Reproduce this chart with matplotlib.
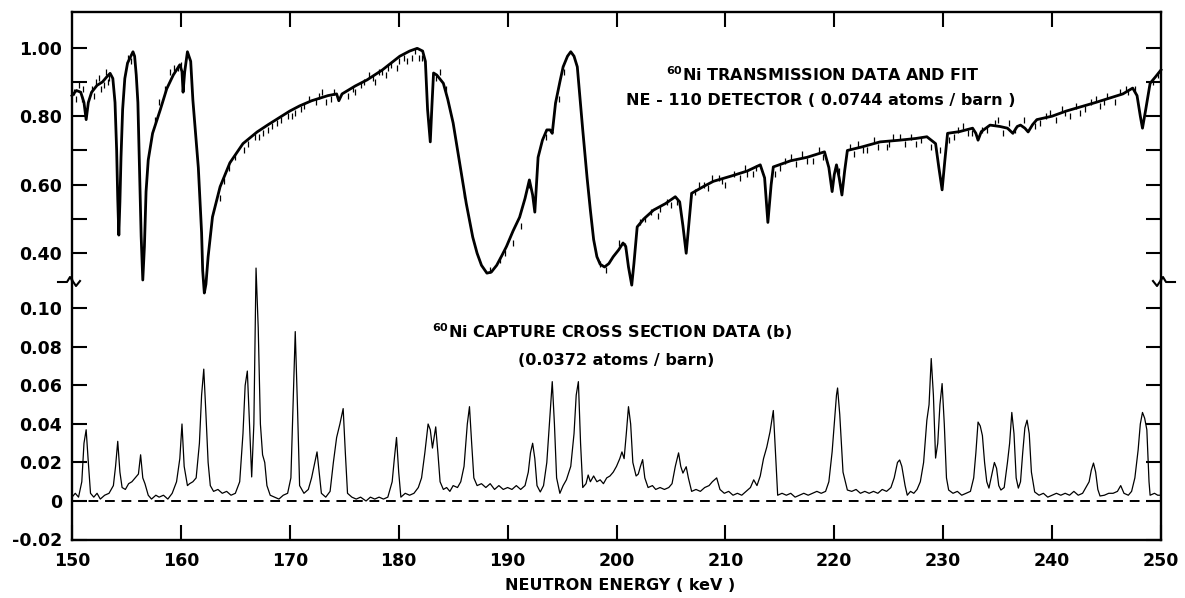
import matplotlib
matplotlib.use("Agg")
import matplotlib.pyplot as plt
from matplotlib.lines import Line2D

# ---- transmission fit (keV, transmission) ----
fit_E = [150.0, 150.4, 150.8, 151.1, 151.3, 151.5, 151.8, 152.3, 152.8, 153.2,
         153.5, 153.75, 153.95, 154.1, 154.2, 154.3, 154.4, 154.5, 154.65, 154.85,
         155.1, 155.4, 155.6, 155.75, 155.9, 156.05, 156.2, 156.35, 156.5, 156.65,
         156.8, 157.0, 157.4, 158.1, 158.7, 159.3, 159.9, 160.1, 160.2, 160.35,
         160.6, 160.9, 161.1, 161.35, 161.6, 161.9, 162.0, 162.15, 162.3, 162.5,
         162.9, 163.6, 164.5, 165.7, 167.0, 168.0, 169.0, 170.0, 170.9, 172.0,
         173.5, 174.3, 174.5, 174.8, 176.0, 177.1, 178.5, 180.1, 181.0, 181.7,
         182.2, 182.45, 182.65, 182.9, 183.05, 183.2, 183.5, 184.1, 184.5, 185.0,
         185.6, 186.2, 186.8, 187.2, 187.6, 188.1, 188.5, 189.0, 189.5, 189.9,
         190.5, 191.1, 191.6, 192.0, 192.3, 192.5, 192.65, 192.8, 193.2, 193.6,
         193.9, 194.1, 194.4, 194.8, 195.1, 195.5, 195.8, 196.1, 196.4, 196.9,
         197.3, 197.6, 197.9, 198.2, 198.5, 198.9, 199.3, 199.7, 200.2, 200.6,
         200.85, 201.1, 201.4, 201.6, 201.9, 202.5, 203.4, 204.5, 205.4, 205.8,
         206.1, 206.4, 206.6, 206.9, 208.0, 208.9, 210.5, 212.0, 213.2, 213.6,
         213.9, 214.2, 214.4, 216.0, 217.5, 219.1, 219.5, 219.8, 220.0, 220.2,
         220.45, 220.7, 220.95, 221.2, 222.5, 224.2, 226.0, 227.5, 228.5, 229.3,
         229.6, 229.9, 230.15, 230.4, 231.5, 232.7, 233.0, 233.2, 233.5, 234.3,
         235.2, 235.9, 236.4, 236.8, 237.1, 237.5, 237.8, 238.2, 238.6, 240.0,
         241.3, 242.6, 244.0, 245.5, 246.5, 247.4, 247.8, 248.1, 248.3, 248.6,
         249.0, 249.5, 250.0]
fit_T = [0.86, 0.875, 0.87, 0.84, 0.79, 0.84, 0.87, 0.89, 0.90, 0.915,
         0.925, 0.91, 0.84, 0.70, 0.56, 0.453, 0.55, 0.68, 0.82, 0.91,
         0.955, 0.975, 0.988, 0.975, 0.92, 0.84, 0.65, 0.45, 0.322, 0.42,
         0.58, 0.672, 0.75, 0.818, 0.88, 0.92, 0.95, 0.93, 0.87, 0.93,
         0.988, 0.96, 0.847, 0.75, 0.65, 0.46, 0.35, 0.284, 0.31, 0.39,
         0.506, 0.594, 0.664, 0.72, 0.754, 0.775, 0.795, 0.815, 0.83, 0.845,
         0.86, 0.865, 0.845, 0.865, 0.888, 0.906, 0.935, 0.975, 0.99, 0.998,
         0.99, 0.96, 0.82, 0.725, 0.83, 0.926, 0.92, 0.896, 0.85, 0.78,
         0.663, 0.546, 0.447, 0.40, 0.365, 0.342, 0.345, 0.365, 0.395, 0.42,
         0.465, 0.505, 0.56, 0.614, 0.57, 0.52, 0.60, 0.68, 0.73, 0.76,
         0.76, 0.75, 0.838, 0.90, 0.944, 0.975, 0.988, 0.975, 0.944, 0.76,
         0.62, 0.526, 0.44, 0.39, 0.368, 0.36, 0.37, 0.39, 0.41, 0.43,
         0.42, 0.36, 0.307, 0.37, 0.477, 0.50, 0.526, 0.545, 0.565, 0.55,
         0.48, 0.40, 0.47, 0.575, 0.595, 0.61, 0.625, 0.64, 0.658, 0.62,
         0.49, 0.60, 0.652, 0.67, 0.68, 0.696, 0.65, 0.58, 0.63, 0.658,
         0.62, 0.57, 0.64, 0.70, 0.71, 0.725, 0.73, 0.735, 0.74, 0.72,
         0.65, 0.585, 0.67, 0.75, 0.755, 0.765, 0.75, 0.73, 0.755, 0.774,
         0.77, 0.765, 0.75, 0.77, 0.774, 0.765, 0.754, 0.775, 0.79, 0.80,
         0.815, 0.827, 0.84, 0.855, 0.865, 0.882, 0.86, 0.80, 0.765, 0.82,
         0.896, 0.915, 0.935]

# ---- transmission data points (scatter around the fit) ----
data_E = [150.2, 150.6, 150.9, 151.8, 152.2, 152.7, 153.1, 153.4, 155.1, 155.4,
          157.6, 158.0, 158.5, 159.0, 159.4, 160.0, 163.6, 164.0, 165.0, 165.8,
          166.8, 167.5, 168.4, 169.2, 169.8, 170.5, 171.3, 171.8, 172.4, 173.0,
          173.8, 175.3, 175.8, 176.5, 177.3, 177.8, 178.2, 178.8, 179.3, 179.8,
          180.5, 181.2, 181.9, 183.8, 186.0, 189.8, 190.5, 191.2, 193.5, 195.2,
          199.0, 200.2, 202.6, 203.2, 203.8, 204.6, 205.0, 207.2, 207.6, 208.4,
          209.4, 210.0, 210.8, 211.3, 211.8, 212.5, 215.0, 215.5, 216.5, 217.0,
          218.0, 218.6, 221.8, 222.2, 223.0, 223.6, 224.8, 225.4, 226.5, 227.0,
          228.0, 228.9, 231.0, 231.8, 232.3, 234.0, 234.8, 235.5, 236.0, 238.9,
          239.4, 240.4, 240.9, 241.6, 242.2, 243.0, 243.6, 244.4, 245.0, 245.8,
          246.2, 247.0, 249.3, 249.7,
          150.4, 151.0, 152.0, 152.5, 152.9, 153.3, 159.7, 164.4, 166.2, 167.2,
          168.0, 168.8, 170.2, 171.0, 172.7, 173.3, 174.1, 176.0, 176.8, 177.6,
          178.5, 179.0, 180.0, 180.8, 181.5, 182.1, 183.4, 184.3, 188.4, 189.3,
          192.0, 194.7, 198.5, 200.8, 202.2, 204.0, 205.6, 206.8, 208.0, 208.8,
          209.7, 212.0, 212.8, 214.6, 216.0, 217.5, 219.0, 220.4, 221.4, 222.6,
          224.0, 225.0, 226.0, 227.5, 229.7, 230.5, 231.4, 232.6, 233.6, 235.0,
          236.6, 237.4, 238.4, 239.8, 241.2, 242.6, 244.0, 244.8, 246.8, 247.6]
data_T = [0.87, 0.89, 0.85, 0.88, 0.90, 0.88, 0.93, 0.91, 0.97, 0.96,
          0.79, 0.84, 0.88, 0.93, 0.94, 0.95, 0.56, 0.61, 0.68, 0.70,
          0.74, 0.75, 0.77, 0.79, 0.80, 0.81, 0.83, 0.85, 0.84, 0.87,
          0.85, 0.86, 0.88, 0.89, 0.92, 0.90, 0.93, 0.92, 0.95, 0.94,
          0.97, 0.97, 0.97, 0.93, 0.57, 0.40, 0.43, 0.48, 0.74, 0.93,
          0.35, 0.43, 0.50, 0.52, 0.51, 0.55, 0.54, 0.58, 0.60, 0.59,
          0.62, 0.60, 0.63, 0.62, 0.65, 0.63, 0.65, 0.67, 0.66, 0.69,
          0.67, 0.70, 0.69, 0.72, 0.70, 0.73, 0.71, 0.74, 0.72, 0.74,
          0.73, 0.71, 0.74, 0.77, 0.75, 0.76, 0.78, 0.75, 0.78, 0.78,
          0.80, 0.79, 0.82, 0.80, 0.83, 0.82, 0.84, 0.83, 0.86, 0.84,
          0.87, 0.87, 0.90, 0.92,
          0.85, 0.88, 0.86, 0.91, 0.89, 0.90, 0.94, 0.65, 0.72, 0.74,
          0.76, 0.78, 0.80, 0.82, 0.86, 0.84, 0.87, 0.87, 0.90, 0.91,
          0.93, 0.94, 0.96, 0.96, 0.99, 0.97, 0.91, 0.88, 0.35, 0.38,
          0.60, 0.85, 0.37, 0.42, 0.49, 0.53, 0.55, 0.57, 0.60, 0.62,
          0.61, 0.63, 0.65, 0.63, 0.68, 0.67, 0.68, 0.64, 0.71, 0.70,
          0.71, 0.72, 0.74, 0.72, 0.70, 0.73, 0.76, 0.75, 0.76, 0.79,
          0.76, 0.79, 0.77, 0.81, 0.81, 0.81, 0.85, 0.84, 0.88, 0.88]

# ---- capture cross section (keV, barn) ----
cap_E = [150.0, 150.3, 150.6, 150.9, 151.1, 151.3, 151.5, 151.7, 152.0, 152.3,
         152.6, 153.0, 153.4, 153.8, 154.0, 154.2, 154.4, 154.6, 154.9, 155.2,
         155.5, 155.8, 156.1, 156.3, 156.5, 156.7, 157.0, 157.3, 157.7, 158.0,
         158.4, 158.8, 159.2, 159.6, 159.9, 160.1, 160.3, 160.6, 160.8, 161.1,
         161.4, 161.7, 161.9, 162.1, 162.3, 162.5, 162.7, 163.0, 163.4, 163.8,
         164.2, 164.6, 165.0, 165.4, 165.7, 165.9, 166.1, 166.3, 166.5, 166.7,
         166.9, 167.1, 167.3, 167.5, 167.7, 167.9, 168.2, 168.6, 169.0, 169.4,
         169.8, 170.1, 170.3, 170.5, 170.7, 170.9, 171.3, 171.7, 172.0, 172.3,
         172.5, 172.7, 172.9, 173.3, 173.7, 174.0, 174.3, 174.6, 174.9, 175.1,
         175.3, 175.7, 176.1, 176.5, 177.0, 177.4, 177.8, 178.2, 178.6, 179.0,
         179.4, 179.6, 179.8, 180.0, 180.2, 180.6, 181.0, 181.4, 181.8, 182.1,
         182.4, 182.7, 182.9, 183.1, 183.4, 183.6, 183.8, 184.1, 184.4, 184.7,
         185.0, 185.4, 185.7, 186.0, 186.3, 186.5, 186.7, 186.9, 187.2, 187.6,
         188.0, 188.4, 188.8, 189.2, 189.6, 190.0, 190.4, 190.8, 191.2, 191.6,
         191.9, 192.1, 192.3, 192.5, 192.7, 193.0, 193.3, 193.6, 193.9, 194.1,
         194.3, 194.5, 194.8, 195.1, 195.4, 195.8, 196.1, 196.3, 196.5, 196.7,
         196.9, 197.2, 197.4, 197.6, 197.9, 198.2, 198.5, 198.8, 199.1, 199.4,
         199.7, 200.0, 200.3, 200.5, 200.7, 200.9, 201.1, 201.3, 201.5, 201.8,
         202.0, 202.2, 202.4, 202.6, 202.9, 203.3, 203.6, 204.0, 204.4, 204.8,
         205.1, 205.4, 205.7, 205.9, 206.1, 206.4, 206.6, 206.9, 207.3, 207.7,
         208.1, 208.5, 208.8, 209.2, 209.5, 209.9, 210.3, 210.7, 211.1, 211.5,
         211.9, 212.3, 212.6, 212.9, 213.2, 213.5, 213.8, 214.1, 214.4, 214.6,
         214.8, 215.2, 215.6, 216.0, 216.4, 216.8, 217.2, 217.6, 218.0, 218.4,
         218.8, 219.2, 219.5, 219.8, 220.0, 220.2, 220.3, 220.5, 220.8, 221.2,
         221.6, 222.0, 222.4, 222.8, 223.2, 223.6, 224.0, 224.4, 224.8, 225.2,
         225.5, 225.8, 226.0, 226.2, 226.5, 226.7, 227.0, 227.3, 227.6, 227.9,
         228.2, 228.5, 228.7, 228.9, 229.1, 229.3, 229.5, 229.7, 229.9, 230.1,
         230.3, 230.5, 230.9, 231.3, 231.7, 232.1, 232.5, 232.8, 233.0, 233.2,
         233.4, 233.6, 233.8, 234.0, 234.2, 234.4, 234.7, 234.9, 235.1, 235.3,
         235.6, 235.9, 236.1, 236.3, 236.5, 236.7, 236.9, 237.1, 237.3, 237.5,
         237.7, 237.9, 238.1, 238.4, 238.8, 239.2, 239.6, 240.0, 240.4, 240.8,
         241.2, 241.6, 242.0, 242.4, 242.8, 243.1, 243.4, 243.6, 243.8, 244.0,
         244.2, 244.4, 244.8, 245.2, 245.6, 246.0, 246.3, 246.6, 247.0, 247.3,
         247.6, 247.9, 248.1, 248.3, 248.5, 248.7, 248.9, 249.0, 249.4, 249.7,
         250.0]
cap_S = [0.002, 0.004, 0.002, 0.010, 0.030, 0.037, 0.020, 0.004, 0.002, 0.004,
         0.001, 0.003, 0.004, 0.008, 0.018, 0.031, 0.015, 0.007, 0.006, 0.009,
         0.010, 0.012, 0.014, 0.024, 0.012, 0.009, 0.003, 0.001, 0.003, 0.002,
         0.003, 0.001, 0.004, 0.010, 0.022, 0.040, 0.018, 0.008, 0.009, 0.010,
         0.012, 0.030, 0.055, 0.0685, 0.045, 0.020, 0.008, 0.005, 0.006, 0.004,
         0.005, 0.003, 0.004, 0.010, 0.035, 0.060, 0.0675, 0.040, 0.0125, 0.040,
         0.121, 0.090, 0.040, 0.024, 0.020, 0.008, 0.003, 0.002, 0.001, 0.003,
         0.004, 0.012, 0.050, 0.088, 0.050, 0.008, 0.004, 0.006, 0.012, 0.020,
         0.0255, 0.015, 0.004, 0.002, 0.005, 0.020, 0.033, 0.040, 0.048, 0.025,
         0.004, 0.002, 0.001, 0.002, 0.000, 0.002, 0.001, 0.002, 0.001, 0.002,
         0.010, 0.022, 0.033, 0.015, 0.002, 0.004, 0.003, 0.004, 0.007, 0.012,
         0.025, 0.040, 0.037, 0.0275, 0.0385, 0.025, 0.010, 0.006, 0.007, 0.005,
         0.008, 0.007, 0.010, 0.018, 0.040, 0.049, 0.030, 0.012, 0.008, 0.009,
         0.007, 0.009, 0.006, 0.008, 0.006, 0.007, 0.006, 0.008, 0.006, 0.008,
         0.015, 0.025, 0.030, 0.022, 0.008, 0.0047, 0.008, 0.020, 0.045, 0.062,
         0.040, 0.012, 0.004, 0.008, 0.011, 0.018, 0.035, 0.055, 0.062, 0.030,
         0.007, 0.009, 0.0135, 0.010, 0.013, 0.010, 0.011, 0.009, 0.012, 0.013,
         0.015, 0.018, 0.022, 0.0255, 0.022, 0.035, 0.049, 0.040, 0.020, 0.013,
         0.014, 0.018, 0.0215, 0.012, 0.007, 0.008, 0.006, 0.007, 0.006, 0.007,
         0.009, 0.018, 0.025, 0.018, 0.0145, 0.0178, 0.012, 0.005, 0.006, 0.005,
         0.007, 0.008, 0.010, 0.012, 0.006, 0.004, 0.005, 0.003, 0.004, 0.003,
         0.005, 0.007, 0.011, 0.008, 0.013, 0.022, 0.028, 0.036, 0.047, 0.025,
         0.003, 0.004, 0.003, 0.004, 0.002, 0.003, 0.004, 0.003, 0.004, 0.005,
         0.004, 0.005, 0.010, 0.0255, 0.040, 0.055, 0.0587, 0.045, 0.015, 0.0057,
         0.005, 0.006, 0.004, 0.005, 0.004, 0.005, 0.004, 0.006, 0.005, 0.007,
         0.012, 0.020, 0.0213, 0.018, 0.008, 0.003, 0.005, 0.004, 0.006, 0.010,
         0.020, 0.042, 0.050, 0.074, 0.055, 0.0223, 0.030, 0.050, 0.061, 0.040,
         0.012, 0.0057, 0.004, 0.005, 0.003, 0.004, 0.005, 0.012, 0.025, 0.041,
         0.039, 0.034, 0.020, 0.010, 0.0067, 0.012, 0.020, 0.017, 0.008, 0.0057,
         0.007, 0.020, 0.030, 0.046, 0.035, 0.012, 0.0067, 0.010, 0.025, 0.038,
         0.042, 0.035, 0.015, 0.0047, 0.003, 0.004, 0.002, 0.003, 0.004, 0.003,
         0.004, 0.003, 0.005, 0.003, 0.004, 0.007, 0.010, 0.016, 0.0197, 0.015,
         0.006, 0.0026, 0.003, 0.004, 0.004, 0.005, 0.008, 0.004, 0.003, 0.005,
         0.012, 0.0265, 0.040, 0.046, 0.043, 0.037, 0.010, 0.003, 0.004, 0.003,
         0.003]

x_ticks = [150, 160, 170, 180, 190, 200, 210, 220, 230, 240, 250]
top_ticks = [0.40, 0.60, 0.80, 1.00]
top_minor = [0.50, 0.70, 0.90]
bot_ticks = [-0.02, 0.0, 0.02, 0.04, 0.06, 0.08, 0.10]
bot_labels = ['-0.02', '0', '0.02', '0.04', '0.06', '0.08', '0.10']

W, H = 1185, 598
fig = plt.figure(figsize=(W / 100, H / 100), dpi=100)
plt.rcParams['font.family'] = ['DejaVu Sans']

L, R = 72 / W, 1161 / W
ax_t = fig.add_axes([L, 1 - 280 / H, R - L, (280 - 12) / H])
ax_b = fig.add_axes([L, 1 - 539.5 / H, R - L, (539.5 - 280) / H])

for ax in (ax_t, ax_b):
    ax.set_xlim(150, 250)
    ax.patch.set_visible(False)
    for s in ax.spines.values():
        s.set_linewidth(1.7)
    ax.tick_params(which='both', direction='in', length=11, width=1.5,
                   labelsize=12.5, pad=7)

# transmission panel
ax_t.set_ylim(0.322, 1.104)
ax_t.spines['bottom'].set_visible(False)
ax_t.set_xticks(x_ticks[1:-1])
ax_t.tick_params(axis='x', bottom=False, top=True, labelbottom=False)
ax_t.set_yticks(top_ticks)
ax_t.set_yticklabels(['%.2f' % v for v in top_ticks], fontweight='bold')
ax_t.set_yticks(top_minor, minor=True)
ax_t.tick_params(axis='y', which='both', left=True, right=True)
ax_t.plot(data_E, data_T, ls='none', marker='|', ms=4, mew=0.9,
          color='black', clip_on=False)
ax_t.plot(fit_E, fit_T, color='black', lw=2.0, clip_on=False)

ax_t.text(218.9, 0.92, r'$\mathbf{^{60}}$Ni TRANSMISSION DATA AND FIT',
          ha='center', va='center', fontsize=11.5, fontweight='bold')
ax_t.text(218.8, 0.847, 'NE - 110 DETECTOR ( 0.0744 atoms / barn )',
          ha='center', va='center', fontsize=11.5, fontweight='bold')

# capture panel
ax_b.set_ylim(-0.02, 0.1148)
ax_b.spines['top'].set_visible(False)
ax_b.set_xticks(x_ticks)
ax_b.set_xticklabels([str(v) for v in x_ticks], fontweight='bold')
ax_b.tick_params(axis='x', top=False, pad=9)
ax_b.set_yticks(bot_ticks)
ax_b.set_yticklabels(bot_labels, fontweight='bold')
ax_b.tick_params(axis='y', left=True, right=True)
ax_b.axhline(0, color='black', lw=1.4, ls=(0, (5, 3.5)))
ax_b.plot(cap_E, cap_S, color='black', lw=0.9, clip_on=False)

ax_b.text(199.6, 0.0878, r'$\mathbf{^{60}}$Ni CAPTURE CROSS SECTION DATA (b)',
          ha='center', va='center', fontsize=11.5, fontweight='bold')
ax_b.text(200.0, 0.0732, '(0.0372 atoms / barn)', ha='center', va='center',
          fontsize=11.5, fontweight='bold')

fig.text(620 / W, 1 - 585 / H, 'NEUTRON ENERGY ( keV )', ha='center',
         va='center', fontsize=11.5, fontweight='bold')

# axis break marks
def px(pts):
    return [p[0] / W for p in pts], [1 - p[1] / H for p in pts]

for pts in ([(58, 282), (67, 282), (70, 277), (76, 286), (80, 281)],
            [(1175, 282), (1166, 282), (1163, 277), (1157, 286), (1153, 281)]):
    xs, ys = px(pts)
    fig.add_artist(Line2D(xs, ys, color='black', lw=1.5))

fig.savefig('out.png', dpi=100)
